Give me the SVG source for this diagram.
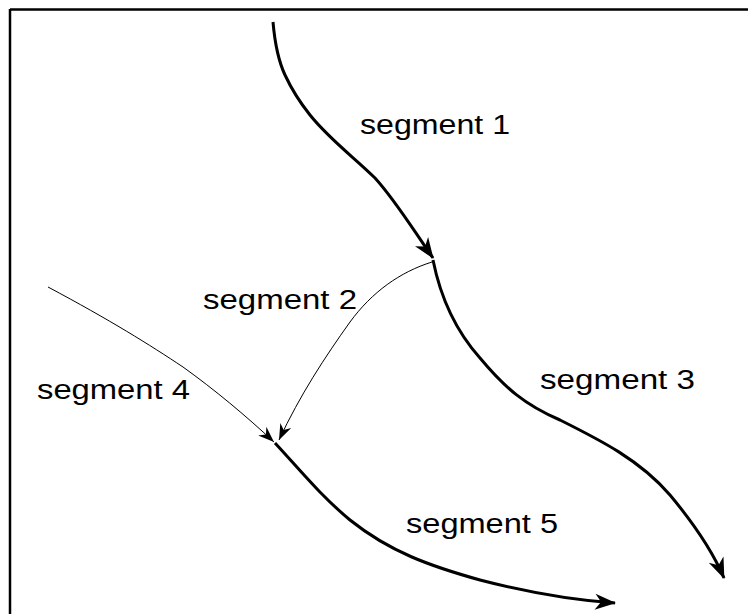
<svg xmlns="http://www.w3.org/2000/svg" width="748" height="614" viewBox="0 0 748 614">
<style>
.thick{fill:none;stroke:#000;stroke-width:3;stroke-linejoin:round;marker-end:url(#big)}
.thin{fill:none;stroke:#000;stroke-width:1;marker-end:url(#small)}
.lbl{font-family:"Liberation Sans",Arial,sans-serif;font-size:27px;fill:#000}
</style>
<defs>
<marker id="big" markerUnits="userSpaceOnUse" markerWidth="22" markerHeight="16" refX="20" refY="8" orient="auto" overflow="visible">
<path d="M0,0 L21,8 L0,16 L6,8 z" fill="#000"/>
</marker>
<marker id="small" markerUnits="userSpaceOnUse" markerWidth="17" markerHeight="12" refX="16" refY="6" orient="auto" overflow="visible">
<path d="M0,0 L16,6 L0,12 L5,6 z" fill="#000"/>
</marker>
</defs>
<rect width="748" height="614" fill="#fff"/>
<g id="frame">
<line x1="10" y1="9.5" x2="748" y2="9.5" stroke="#000" stroke-width="2.5"/>
<line x1="10" y1="9" x2="10" y2="614" stroke="#000" stroke-width="2.5"/>
</g>
<g id="connectors">
<path id="seg1" class="thick" d="M273,22 C275,45 278,60 285,75 C292,90 298,100 310,115 C330,140 355,158 375,178 C395,200 410,225 433,258"/>
<path id="seg2" class="thin" d="M432,262 C400,272 372,292 350,322 C325,357 300,395 279,440"/>
<path id="seg3" class="thick" d="M433,260 C440,295 455,330 480,358 C505,388 525,405 560,420 C600,440 640,460 670,495 C695,525 712,550 724,578"/>
<path id="seg4" class="thin" d="M48,287 C110,320 150,345 183,367 C215,390 245,415 274,442"/>
<path id="seg5" class="thick" d="M275,443 C300,470 320,495 350,520 C390,552 430,566 480,580 C530,593 570,600 615,603"/>
</g>
<g id="labels">
<text class="lbl" x="360" y="134" textLength="150" lengthAdjust="spacingAndGlyphs">segment 1</text>
<text class="lbl" x="203" y="309" textLength="154" lengthAdjust="spacingAndGlyphs">segment 2</text>
<text class="lbl" x="540" y="389" textLength="155" lengthAdjust="spacingAndGlyphs">segment 3</text>
<text class="lbl" x="37" y="399" textLength="153" lengthAdjust="spacingAndGlyphs">segment 4</text>
<text class="lbl" x="406" y="533" textLength="152" lengthAdjust="spacingAndGlyphs">segment 5</text>
</g>
</svg>
